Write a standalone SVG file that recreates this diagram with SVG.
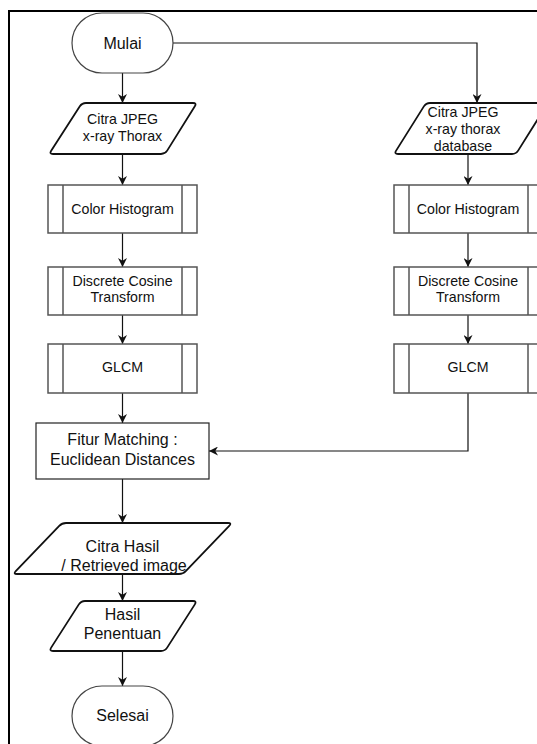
<svg xmlns="http://www.w3.org/2000/svg" width="537" height="744" viewBox="0 0 537 744">
  <style>
    text { font-family: "Liberation Sans", Arial, sans-serif; fill: #111; text-anchor: middle; }
    .t16 { font-size: 16px; }
    .t14 { font-size: 14.2px; }
    .term { fill: #fff; stroke: #444; stroke-width: 1.2; }
    .io { fill: #fff; stroke: #111; stroke-width: 1.8; stroke-linejoin: round; }
    .sub { fill: #fff; stroke: #555; stroke-width: 1.5; }
    .proc { fill: #fff; stroke: #222; stroke-width: 1.2; }
    .edge { fill: none; stroke: #111; stroke-width: 1.2; }
    .frame { fill: none; stroke: #000; stroke-width: 2; }
  </style>
  <defs>
    <marker id="arrow" viewBox="0 0 10 10" refX="10" refY="5" markerWidth="9" markerHeight="9" markerUnits="userSpaceOnUse" orient="auto">
      <path d="M0,0 L10,5 L0,10 L3,5 z" fill="#111"/>
    </marker>
  </defs>

  <rect width="537" height="744" fill="#fff"/>
  <!-- outer frame -->
  <rect class="frame" x="9" y="11" width="560" height="760"/>

  <!-- connectors -->
  <g id="connectors">
    <path class="edge" d="M122.5,73 V103" marker-end="url(#arrow)"/>
    <path class="edge" d="M173,43 H477 V103" marker-end="url(#arrow)"/>
    <path class="edge" d="M122.5,154 V185" marker-end="url(#arrow)"/>
    <path class="edge" d="M122.5,233 V267" marker-end="url(#arrow)"/>
    <path class="edge" d="M122.5,315 V344" marker-end="url(#arrow)"/>
    <path class="edge" d="M122.5,393 V423" marker-end="url(#arrow)"/>
    <path class="edge" d="M468,154 V185" marker-end="url(#arrow)"/>
    <path class="edge" d="M468,233 V267" marker-end="url(#arrow)"/>
    <path class="edge" d="M468,315 V344" marker-end="url(#arrow)"/>
    <path class="edge" d="M468,393 V451 H209" marker-end="url(#arrow)"/>
    <path class="edge" d="M122.5,479 V523" marker-end="url(#arrow)"/>
    <path class="edge" d="M122.5,574 V601" marker-end="url(#arrow)"/>
    <path class="edge" d="M122.5,651 V686" marker-end="url(#arrow)"/>
  </g>

  <g id="mulai">
    <rect class="term" x="72" y="13" width="101" height="60" rx="30" ry="30"/>
    <text class="t16" x="122.5" y="49">Mulai</text>
  </g>

  <g id="citra-input">
    <path class="io" d="M86,103 H193 Q197,103 194.83,106.36 L167.17,150.64 Q165,154 161,154 H53 Q49,154 51.17,150.64 L79.83,106.36 Q82,103 86,103 Z"/>
    <text class="t14" x="122.5" y="124">Citra JPEG</text>
    <text class="t14" x="122.5" y="141">x-ray Thorax</text>
  </g>

  <g id="citra-database">
    <path class="io" d="M430,103 H544 Q548,103 545.87,106.39 L518.13,150.61 Q516,154 512,154 H398 Q394,154 396.13,150.61 L423.87,106.39 Q426,103 430,103 Z"/>
    <text class="t14" x="463" y="117">Citra JPEG</text>
    <text class="t14" x="463" y="134">x-ray thorax</text>
    <text class="t14" x="463" y="151">database</text>
  </g>

  <g id="color-histogram-1">
    <rect class="sub" x="48" y="185" width="149" height="48"/>
    <path class="sub" d="M63,185 V233 M182,185 V233"/>
    <text class="t14" x="122.5" y="214">Color Histogram</text>
  </g>

  <g id="dct-1">
    <rect class="sub" x="48" y="267" width="149" height="48"/>
    <path class="sub" d="M63,267 V315 M182,267 V315"/>
    <text class="t14" x="122.5" y="286">Discrete Cosine</text>
    <text class="t14" x="122.5" y="302">Transform</text>
  </g>

  <g id="glcm-1">
    <rect class="sub" x="48" y="344" width="149" height="49"/>
    <path class="sub" d="M63,344 V393 M182,344 V393"/>
    <text class="t14" x="122.5" y="372">GLCM</text>
  </g>

  <g id="color-histogram-2">
    <rect class="sub" x="394" y="185" width="149" height="48"/>
    <path class="sub" d="M409,185 V233 M528,185 V233"/>
    <text class="t14" x="468" y="214">Color Histogram</text>
  </g>

  <g id="dct-2">
    <rect class="sub" x="394" y="267" width="149" height="48"/>
    <path class="sub" d="M409,267 V315 M528,267 V315"/>
    <text class="t14" x="468" y="286">Discrete Cosine</text>
    <text class="t14" x="468" y="302">Transform</text>
  </g>

  <g id="glcm-2">
    <rect class="sub" x="394" y="344" width="149" height="49"/>
    <path class="sub" d="M409,344 V393 M528,344 V393"/>
    <text class="t14" x="468" y="372">GLCM</text>
  </g>

  <g id="fitur-matching">
    <rect class="proc" x="36" y="423" width="173" height="56"/>
    <text class="t16" x="122.5" y="445">Fitur Matching :</text>
    <text class="t16" x="122.5" y="465">Euclidean Distances</text>
  </g>

  <g id="citra-hasil">
    <path class="io" d="M66,523 H228 Q232,523 229.23,525.88 L185.77,571.12 Q183,574 179,574 H17 Q13,574 15.77,571.12 L59.23,525.88 Q62,523 66,523 Z"/>
    <text class="t16" x="122.5" y="552">Citra Hasil</text>
    <text class="t16" x="124" y="571">/ Retrieved image</text>
  </g>

  <g id="hasil-penentuan">
    <path class="io" d="M85,601 H193 Q197,601 194.85,604.37 L167.15,647.63 Q165,651 161,651 H53 Q49,651 51.15,647.63 L78.85,604.37 Q81,601 85,601 Z"/>
    <text class="t16" x="122.5" y="620">Hasil</text>
    <text class="t16" x="122.5" y="639">Penentuan</text>
  </g>

  <g id="selesai">
    <rect class="term" x="72" y="686" width="101" height="60" rx="30" ry="30"/>
    <text class="t16" x="122.5" y="721">Selesai</text>
  </g>
</svg>
